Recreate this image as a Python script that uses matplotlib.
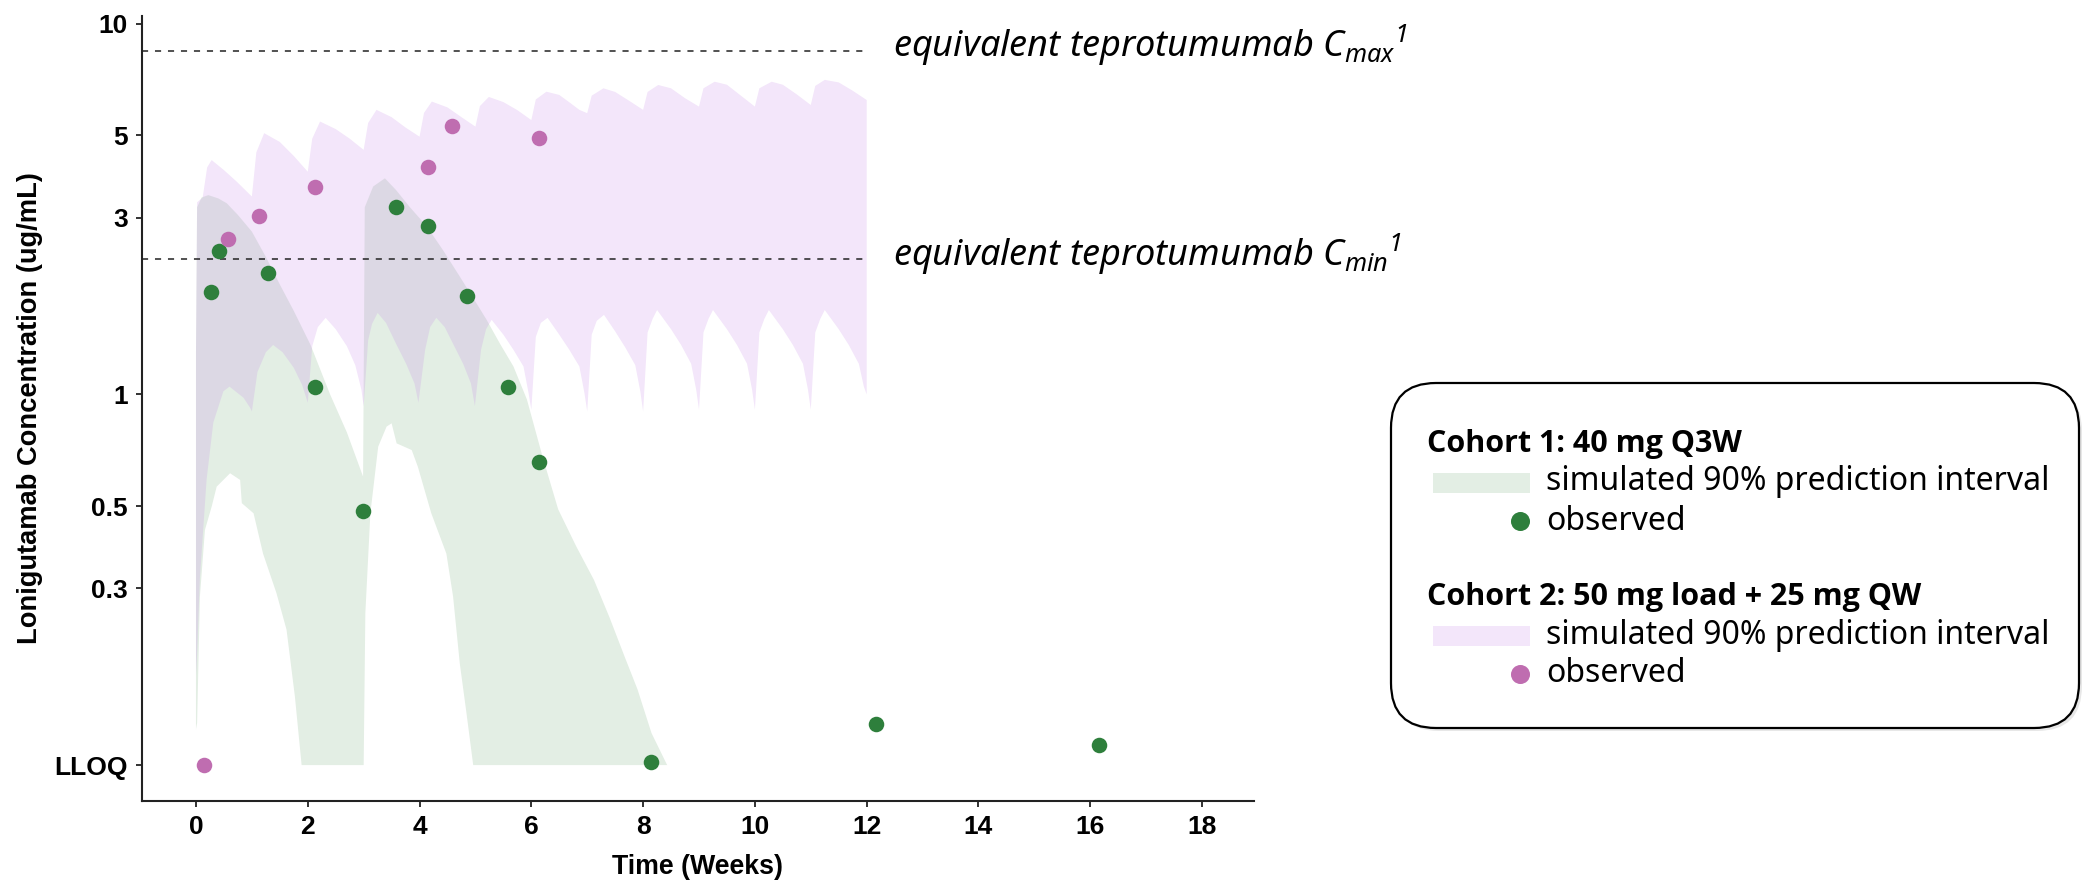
import matplotlib
matplotlib.use("Agg")
import matplotlib.pyplot as plt
from matplotlib import font_manager
from matplotlib.patches import FancyBboxPatch, Rectangle
from matplotlib.ticker import NullLocator

# Cohort 1 (40 mg Q3W): simulated 90% prediction interval edges (weeks, ug/mL)
c1_upper_t = [0.00, 0.02, 0.10, 0.22, 0.40, 0.55, 0.75, 1.00, 1.25, 1.50, 1.75, 2.05, 2.40, 2.70, 2.99,
              3.02, 3.17, 3.38, 3.58, 3.82, 4.13, 4.42, 4.72, 5.02, 5.20, 5.44, 5.68, 5.92, 6.20, 6.48,
              6.80, 7.12, 7.40, 7.67, 7.90, 8.15, 8.43]
c1_upper_v = [1.30, 3.20, 3.40, 3.45, 3.38, 3.28, 3.05, 2.75, 2.35, 1.98, 1.68, 1.36, 1.00, 0.79, 0.60,
              3.20, 3.64, 3.83, 3.56, 3.21, 2.84, 2.45, 2.08, 1.76, 1.59, 1.37, 1.19, 0.97, 0.68, 0.49,
              0.39, 0.316, 0.25, 0.196, 0.16, 0.122, 0.10]
c1_lower_t = [0.00, 0.02, 0.07, 0.16, 0.28, 0.37, 0.61, 0.79, 0.82, 1.03, 1.20, 1.44, 1.62, 1.77, 1.89,
              3.00, 3.03, 3.12, 3.26, 3.41, 3.50, 3.59, 3.86, 3.97, 4.21, 4.48, 4.60, 4.72, 4.84, 4.96,
              8.43]
c1_lower_v = [0.125, 0.13, 0.285, 0.431, 0.498, 0.564, 0.613, 0.588, 0.509, 0.478, 0.372, 0.291, 0.232,
              0.153, 0.10, 0.10, 0.257, 0.478, 0.723, 0.819, 0.836, 0.738, 0.708, 0.638, 0.478, 0.372,
              0.285, 0.188, 0.138, 0.10, 0.10]

# Cohort 2 (50 mg load + 25 mg QW): simulated 90% prediction interval edges
c2_upper_t = [0.00, 0.02, 0.12, 0.20, 0.28, 0.50, 0.73, 1.00,
              1.08, 1.22, 1.50, 1.75, 2.00,
              2.08, 2.22, 2.50, 2.75, 3.00,
              3.08, 3.23, 3.50, 3.75, 4.00,
              4.08, 4.22, 4.50, 4.75, 5.00,
              5.08, 5.24, 5.50, 5.75, 6.00,
              6.08, 6.27, 6.50, 6.70, 6.86, 7.00,
              7.08, 7.29, 7.50, 7.75, 8.00,
              8.08, 8.27, 8.50, 8.75, 9.00,
              9.08, 9.28, 9.50, 9.75, 10.00,
              10.08, 10.30, 10.50, 10.75, 11.00,
              11.08, 11.25, 11.50, 11.75, 12.00]
c2_upper_v = [1.30, 3.30, 3.40, 4.10, 4.29, 4.03, 3.75, 3.42,
              4.50, 5.07, 4.80, 4.40, 3.99,
              4.90, 5.45, 5.20, 4.90, 4.57,
              5.40, 5.86, 5.60, 5.25, 4.96,
              5.75, 6.17, 5.95, 5.60, 5.28,
              6.00, 6.35, 6.15, 5.85, 5.50,
              6.25, 6.56, 6.43, 6.11, 5.86, 5.74,
              6.40, 6.70, 6.55, 6.20, 5.86,
              6.55, 6.84, 6.70, 6.30, 5.98,
              6.70, 6.98, 6.85, 6.40, 5.98,
              6.70, 6.98, 6.85, 6.45, 6.04,
              6.80, 7.06, 6.95, 6.60, 6.23]
c2_lower_t = [0.00, 0.02, 0.07, 0.19, 0.31, 0.49, 0.60, 0.85, 0.97, 1.00,
              1.10, 1.25, 1.38, 1.55, 1.75, 1.90, 2.00,
              2.08, 2.18, 2.32, 2.50, 2.70, 2.85, 2.96, 3.00,
              3.08, 3.15, 3.25, 3.40, 3.58, 3.76, 3.91, 3.98,
              4.10, 4.19, 4.30, 4.45, 4.60, 4.78, 4.92, 4.99,
              5.10, 5.19, 5.29, 5.50, 5.68, 5.86, 5.95, 6.00,
              6.08, 6.17, 6.29, 6.50, 6.68, 6.86, 6.95, 7.00,
              7.08, 7.17, 7.30, 7.50, 7.68, 7.86, 7.95, 8.00,
              8.08, 8.17, 8.25, 8.50, 8.68, 8.86, 8.95, 9.00,
              9.08, 9.17, 9.25, 9.50, 9.68, 9.86, 9.95, 10.00,
              10.08, 10.17, 10.25, 10.50, 10.68, 10.86, 10.95, 11.00,
              11.08, 11.17, 11.25, 11.50, 11.68, 11.86, 11.95, 12.00]
c2_lower_v = [0.175, 0.20, 0.32, 0.59, 0.84, 1.02, 1.05, 0.98, 0.92, 0.90,
              1.15, 1.30, 1.36, 1.30, 1.18, 1.06, 0.95,
              1.35, 1.52, 1.61, 1.50, 1.35, 1.20, 1.03, 0.93,
              1.40, 1.55, 1.66, 1.56, 1.37, 1.21, 1.07, 0.95,
              1.32, 1.52, 1.61, 1.52, 1.37, 1.21, 1.07, 0.93,
              1.32, 1.50, 1.59, 1.45, 1.32, 1.19, 1.01, 0.91,
              1.43, 1.56, 1.61, 1.45, 1.32, 1.19, 1.01, 0.90,
              1.45, 1.58, 1.64, 1.48, 1.34, 1.20, 1.02, 0.90,
              1.47, 1.60, 1.69, 1.50, 1.36, 1.21, 1.03, 0.91,
              1.47, 1.60, 1.69, 1.50, 1.36, 1.21, 1.03, 0.91,
              1.47, 1.60, 1.69, 1.50, 1.36, 1.21, 1.03, 0.91,
              1.47, 1.60, 1.69, 1.50, 1.36, 1.21, 1.05, 1.00]

# observed concentrations (values at LLOQ plotted at 0.1)
c1_obs_t = [0.26, 0.42, 1.28, 2.13, 2.98, 3.57, 4.15, 4.85, 5.59, 6.14, 8.15, 12.16, 16.15]
c1_obs_v = [1.89, 2.44, 2.13, 1.05, 0.485, 3.20, 2.85, 1.84, 1.05, 0.658, 0.102, 0.129, 0.113]
c2_obs_t = [0.14, 0.58, 1.13, 2.13, 4.15, 4.58, 6.14]
c2_obs_v = [0.10, 2.62, 3.04, 3.62, 4.12, 5.30, 4.91]

# reference levels
teprotumumab_cmax = 8.47
teprotumumab_cmin = 2.32

y_ticks = [0.1, 0.3, 0.5, 1, 3, 5, 10]
y_tick_labels = ["LLOQ", "0.3", "0.5", "1", "3", "5", "10"]
x_ticks = [0, 2, 4, 6, 8, 10, 12, 14, 16, 18]

GREEN_BAND = "#e3eee4"
PURPLE_BAND = (195 / 255, 130 / 255, 230 / 255)
GREEN_DOT = "#2e7f3c"
PURPLE_DOT = "#bf6db0"
AXIS_COLOR = "#222222"


def family_with_bold(candidates):
    # first family that actually ships a bold face (some are installed regular-only)
    for fam in candidates:
        path = font_manager.findfont(font_manager.FontProperties(family=fam, weight="bold"),
                                     fallback_to_default=False)
        if "bold" in path.lower():
            return fam
    return "DejaVu Sans"


try:
    LEGEND_BOLD = family_with_bold(["Noto Sans", "Open Sans", "Roboto", "Lato"])
except Exception:
    LEGEND_BOLD = "DejaVu Sans"

plt.rcParams["font.family"] = ["Liberation Sans", "DejaVu Sans"]
plt.rcParams["mathtext.fontset"] = "custom"
plt.rcParams["mathtext.it"] = "Noto Sans:italic"
plt.rcParams["mathtext.rm"] = "Noto Sans:italic"

W, H = 2083, 884
fig = plt.figure(figsize=(W / 100, H / 100), dpi=100)
ax = fig.add_axes([142 / W, 83 / H, 1112 / W, 785 / H])

# prediction interval bands
ax.fill(c1_upper_t + c1_lower_t[::-1], c1_upper_v + c1_lower_v[::-1],
        color=GREEN_BAND, lw=0, zorder=1)
ax.fill(c2_upper_t + c2_lower_t[::-1], c2_upper_v + c2_lower_v[::-1],
        color=PURPLE_BAND, alpha=0.2, lw=0, zorder=2)

ax.scatter(c1_obs_t, c1_obs_v, s=125, color=GREEN_DOT, lw=0, zorder=4)
ax.scatter(c2_obs_t, c2_obs_v, s=125, color=PURPLE_DOT, lw=0, zorder=4)

ax.set_yscale("log")
ax.set_xlim(-0.966, 18.93)
ax.set_ylim(0.080, 10.50)

x_left = ax.get_xlim()[0]
for level, sub in [(teprotumumab_cmax, "max"), (teprotumumab_cmin, "min")]:
    ax.plot([x_left, 12.05], [level, level], color=AXIS_COLOR, lw=1.1,
            dashes=(4.0, 4.5), zorder=3)
    ax.annotate("equivalent teprotumumab C$_{%s}$$^{1}$" % sub, xy=(12.47, level),
                xytext=(0, -4.7), textcoords="offset points", va="baseline", ha="left",
                fontsize=26, style="italic", family="Noto Sans", fontstretch="condensed",
                annotation_clip=False)

ax.set_yticks(y_ticks)
ax.set_yticklabels(y_tick_labels)
ax.yaxis.set_minor_locator(NullLocator())
ax.set_xticks(x_ticks)

for side in ["top", "right"]:
    ax.spines[side].set_visible(False)
for side in ["left", "bottom"]:
    ax.spines[side].set_color(AXIS_COLOR)
    ax.spines[side].set_linewidth(1.5)
ax.tick_params(axis="both", which="major", length=4.2, width=1.3, color=AXIS_COLOR,
               labelsize=19, pad=6)
for lab in ax.get_xticklabels() + ax.get_yticklabels():
    lab.set_fontweight("bold")

ax.set_xlabel("Time (Weeks)", fontsize=19.3, fontweight="bold")
ax.set_ylabel("Lonigutamab Concentration (ug/mL)", fontsize=19.6, fontweight="bold")
ax.xaxis.set_label_coords(0.5, -0.068)
ax.yaxis.set_label_coords(-0.089, 0.5)

# legend box, drawn in pixel coordinates on a full-figure overlay
lg = fig.add_axes([0, 0, 1, 1], zorder=10)
lg.set_xlim(0, W)
lg.set_ylim(H, 0)
lg.axis("off")
lg.patch.set_alpha(0)

shadow = FancyBboxPatch((1394, 386), 688, 345, boxstyle="round,pad=0,rounding_size=45",
                        facecolor="#d8d8d8", edgecolor="none", alpha=0.6)
lg.add_patch(shadow)
box = FancyBboxPatch((1391, 383), 688, 345, boxstyle="round,pad=0,rounding_size=45",
                     facecolor="white", edgecolor="black", lw=1.6)
lg.add_patch(box)

entries = [
    ("Cohort 1: 40 mg Q3W", GREEN_BAND, GREEN_DOT, 444),
    ("Cohort 2: 50 mg load + 25 mg QW", "#f3e6fa", PURPLE_DOT, 597),
]
for title, band_color, dot_color, y0 in entries:
    lg.text(1427, y0, title, family=LEGEND_BOLD, fontweight="bold", fontsize=22,
            va="center", ha="left")
    lg.add_patch(Rectangle((1433, y0 + 29), 97, 20, facecolor=band_color, edgecolor="none"))
    lg.text(1546, y0 + 38, "simulated 90% prediction interval", family="Noto Sans",
            fontsize=23, va="center", ha="left")
    lg.plot([1519.5], [y0 + 77], "o", ms=13.7, color=dot_color, mec="none")
    lg.text(1546, y0 + 77, "observed", family="Noto Sans", fontsize=23, va="center", ha="left")

fig.savefig("out.png", dpi=100)
